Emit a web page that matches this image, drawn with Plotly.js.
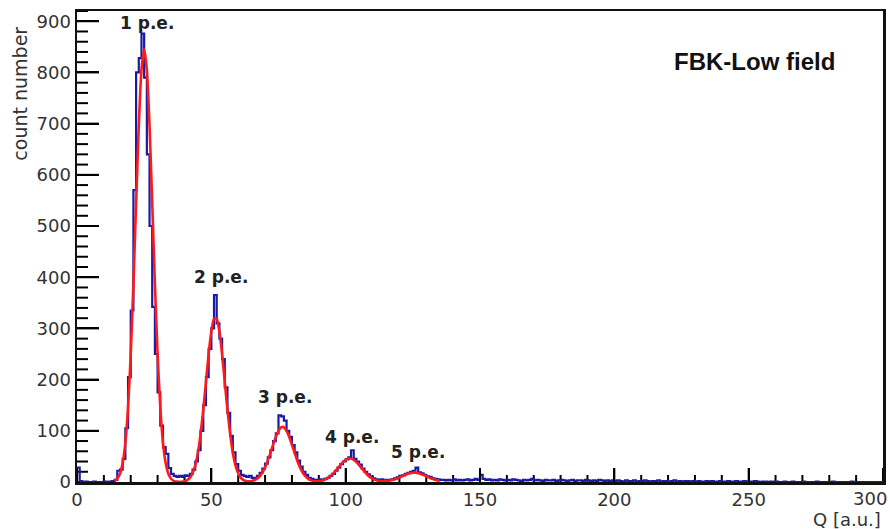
<!DOCTYPE html>
<html>
<head>
<meta charset="utf-8">
<script src="https://cdn.plot.ly/plotly-3.0.1.min.js"></script>
<style>
  html, body { margin: 0; padding: 0; background: #fff; }
  #chart { width: 890px; height: 529px; }
</style>
</head>
<body>
<div id="chart"></div>
<script>
// ---- Data ----
// Histogram: bin width 1, starting at Q = 0 (300 bins, 0..300)
const binStart = 0;
const binWidth = 1;
const counts = [
  // 0-13
  28, 2, 0, 1, 0, 0, 1, 0, 0, 0, 1, 0, 1, 2,
  // 14-35 (1 p.e.)
  4, 22, 24, 45, 105, 205, 335, 570, 800, 828, 876, 790, 640, 500, 342, 250, 175, 110, 68, 55, 27, 16,
  // 36-66 (2 p.e.)
  12, 10, 12, 10, 13, 12, 16, 24, 40, 62, 100, 150, 205, 260, 300, 365, 310, 280, 240, 185, 135, 90, 58, 35, 22, 14, 12, 10, 12, 8, 8,
  // 67-91 (3 p.e.)
  12, 18, 26, 36, 48, 62, 80, 95, 130, 128, 120, 100, 88, 72, 58, 42, 30, 20, 14, 8, 6, 4, 4, 5, 4,
  // 92-116 (4 p.e.)
  6, 8, 12, 16, 22, 28, 35, 40, 44, 48, 62, 45, 40, 34, 26, 20, 15, 10, 7, 5, 4, 5, 3, 4, 4,
  // 117-135 (5 p.e.)
  5, 7, 9, 12, 13, 16, 18, 20, 22, 28, 19, 17, 14, 11, 10, 7, 6, 5, 4,
  // 136-159
  4, 3, 4, 3, 5, 3, 4, 3, 4, 5, 3, 4, 6, 4, 14, 6, 4, 5, 3, 4, 3, 5, 4, 3,
  // 160-199
  4, 3, 5, 4, 3, 2, 4, 3, 4, 6, 3, 4, 3, 2, 4, 3, 3, 4, 2, 3,
  4, 3, 2, 3, 4, 2, 3, 3, 2, 4, 3, 2, 3, 2, 4, 3, 2, 3, 2, 3,
  // 200-249
  2, 3, 2, 1, 3, 2, 2, 3, 1, 2, 2, 3, 2, 1, 2, 2, 3, 1, 2, 2, 1, 2, 3, 1, 2,
  1, 2, 2, 1, 2, 1, 2, 1, 1, 2, 1, 2, 1, 1, 2, 1, 1, 2, 1, 1, 2, 1, 1, 2, 1,
  // 250-299
  1, 1, 2, 1, 0, 1, 1, 0, 1, 0, 1, 0, 0, 1, 0, 0, 1, 0, 0, 0, 1, 0, 0, 0, 0,
  1, 0, 0, 0, 0, 0, 1, 0, 0, 0, 0, 0, 0, 1, 0, 0, 0, 0, 0, 0, 0, 0, 0, 0, 0
];

// Fit curve (red), sampled at every unit of Q from 14 to 135
const fitStart = 14;
const fitStep = 1;
const fitValues = [
  2.3, 6.4, 16, 37, 77, 146, 249, 387, 545, 695, 805, 845,
  805, 695, 545, 387, 249, 146, 77, 37, 16, 6.4, 2.3, 0.7,
  0.4, 0.6, 1.4, 3.6, 8, 17, 32, 57, 94, 141, 195, 250,
  294, 319, 319, 294, 250, 195, 141, 94, 57, 32, 17, 8,
  3.6, 1.7, 1.3, 1.9, 3.4, 6.4, 11.2, 18.4, 28.6, 41.6, 57, 73,
  88, 100, 107, 107, 100, 88, 73, 57, 41.6, 28.6, 18.4, 11.3,
  6.5, 3.6, 2.0, 1.5, 1.7, 2.5, 4.0, 6.5, 10, 14.7, 20.3, 26.6,
  33, 38.9, 43.3, 45.7, 45.7, 43.3, 38.9, 33, 26.6, 20.3, 14.7, 10,
  6.5, 4.1, 2.5, 1.8, 1.5, 1.7, 2.3, 3.3, 4.8, 6.6, 8.8, 11.2,
  13.5, 15.5, 17.1, 18, 18, 17.1, 15.5, 13.5, 11.2, 8.8, 6.6, 4.8, 3.3, 2.1
];

// Peak labels
const peakLabels = ["1 p.e.", "2 p.e.", "3 p.e.", "4 p.e.", "5 p.e."];
const peakLabelQ = [26.0, 53.6, 77.4, 102.3, 126.9];
const peakLabelCount = [896, 400, 167, 87, 58];

// Axis ranges and ticks
const xMax = 300, yMax = 920;
const xTickVals = [0, 50, 100, 150, 200, 250];   // "300" drawn at the right edge below
const xLastLabel = "300";
const yTickVals = [0, 100, 200, 300, 400, 500, 600, 700, 800, 900];
const xMajorStep = 50, xMinorStep = 10, yMajorStep = 100, yMinorStep = 20;

// ---- Page geometry ----
const W = 890, H = 529;
const M = { l: 77, r: 7, t: 11, b: 47 };
const plotW = W - M.l - M.r, plotH = H - M.t - M.b;
const pxPerX = plotW / xMax, pxPerY = plotH / yMax;

// ---- Build traces ----
const binCenters = counts.map((_, i) => binStart + (i + 0.5) * binWidth);
const histX = [binStart].concat(binCenters, [binStart + counts.length * binWidth]);
const histY = [counts[0]].concat(counts, [counts[counts.length - 1]]);

const fitX = fitValues.map((_, i) => fitStart + i * fitStep);

const histTrace = {
  x: histX, y: histY,
  type: 'scatter', mode: 'lines',
  line: { color: '#1a1aa6', width: 2.2, shape: 'hvh' },
  hoverinfo: 'skip', showlegend: false
};
const fitTrace = {
  x: fitX, y: fitValues,
  type: 'scatter', mode: 'lines',
  line: { color: '#ff1a1a', width: 2.6, shape: 'spline', smoothing: 0.6 },
  hoverinfo: 'skip', showlegend: false
};

// ---- Inside tick marks (ROOT style), also drawn as thin filled bars ----
const tickPx = 2;
const xtPos = [], xtLen = [];
for (let v = 0; v <= xMax; v += xMinorStep) {
  xtPos.push(v);
  xtLen.push(((v % xMajorStep === 0) ? 14 : 7) / pxPerY);
}
const ytPos = [], ytLen = [];
for (let v = 0; v <= yMax; v += yMinorStep) {
  ytPos.push(v);
  ytLen.push(((v % yMajorStep === 0) ? 22 : 11) / pxPerX);
}
const xTickBars = {
  type: 'bar', x: xtPos, y: xtLen, base: 0, width: tickPx / pxPerX,
  marker: { color: '#000', line: { width: 0 } },
  hoverinfo: 'skip', showlegend: false
};
const yTickBars = {
  type: 'bar', orientation: 'h', y: ytPos, x: ytLen, base: 0, width: tickPx / pxPerY,
  marker: { color: '#000', line: { width: 0 } },
  hoverinfo: 'skip', showlegend: false
};

const tickFont = { family: 'DejaVu Sans', size: 18, color: '#333' };

const annotations = peakLabels.map((t, i) => ({
  x: peakLabelQ[i], y: peakLabelCount[i], xref: 'x', yref: 'y',
  text: '<b>' + t + '</b>', showarrow: false,
  font: { family: 'DejaVu Sans', size: 17, color: '#222' },
  xanchor: 'center', yanchor: 'middle'
}));
annotations.push({
  x: 0.841, y: 0.892, xref: 'paper', yref: 'paper',
  text: '<b>FBK-Low field</b>', showarrow: false,
  font: { family: 'Liberation Sans', size: 24, color: '#111' },
  xanchor: 'center', yanchor: 'middle'
});
annotations.push({
  x: -0.071, y: 0.824, xref: 'paper', yref: 'paper',
  text: 'count number', showarrow: false, textangle: -90,
  font: { family: 'DejaVu Sans', size: 19, color: '#333' },
  xanchor: 'center', yanchor: 'middle'
});
annotations.push({
  x: 1.0, y: -0.079, xref: 'paper', yref: 'paper',
  text: 'Q [a.u.]', showarrow: false,
  font: { family: 'DejaVu Sans', size: 18, color: '#333' },
  xanchor: 'right', yanchor: 'middle'
});
annotations.push({
  x: 1.0075, y: 0, xref: 'paper', yref: 'paper',
  text: xLastLabel, showarrow: false,
  font: tickFont, xanchor: 'right', yanchor: 'top', yshift: -4
});

const layout = {
  width: W, height: H,
  margin: { l: M.l, r: M.r, t: M.t, b: M.b, pad: 0 },
  paper_bgcolor: '#fff', plot_bgcolor: '#fff',
  showlegend: false, barmode: 'overlay',
  xaxis: {
    range: [0, xMax], tickmode: 'array', tickvals: xTickVals, ticktext: xTickVals.map(String),
    ticks: 'inside', ticklen: 14, tickwidth: 2, tickcolor: '#000',
    showline: true, linecolor: '#111', linewidth: 2.5, mirror: true,
    showgrid: false, zeroline: false, tickfont: tickFont, fixedrange: true
  },
  yaxis: {
    range: [0, yMax], tickmode: 'array', tickvals: yTickVals, ticktext: yTickVals.map(String),
    ticks: 'inside', ticklen: 22, tickwidth: 2, tickcolor: '#000',
    showline: true, linecolor: '#111', linewidth: 2.5, mirror: true,
    showgrid: false, zeroline: false, tickfont: tickFont, fixedrange: true
  },
  annotations: annotations
};

Plotly.newPlot('chart', [xTickBars, yTickBars, histTrace, fitTrace], layout,
  { displayModeBar: false, staticPlot: true });
</script>
</body>
</html>
